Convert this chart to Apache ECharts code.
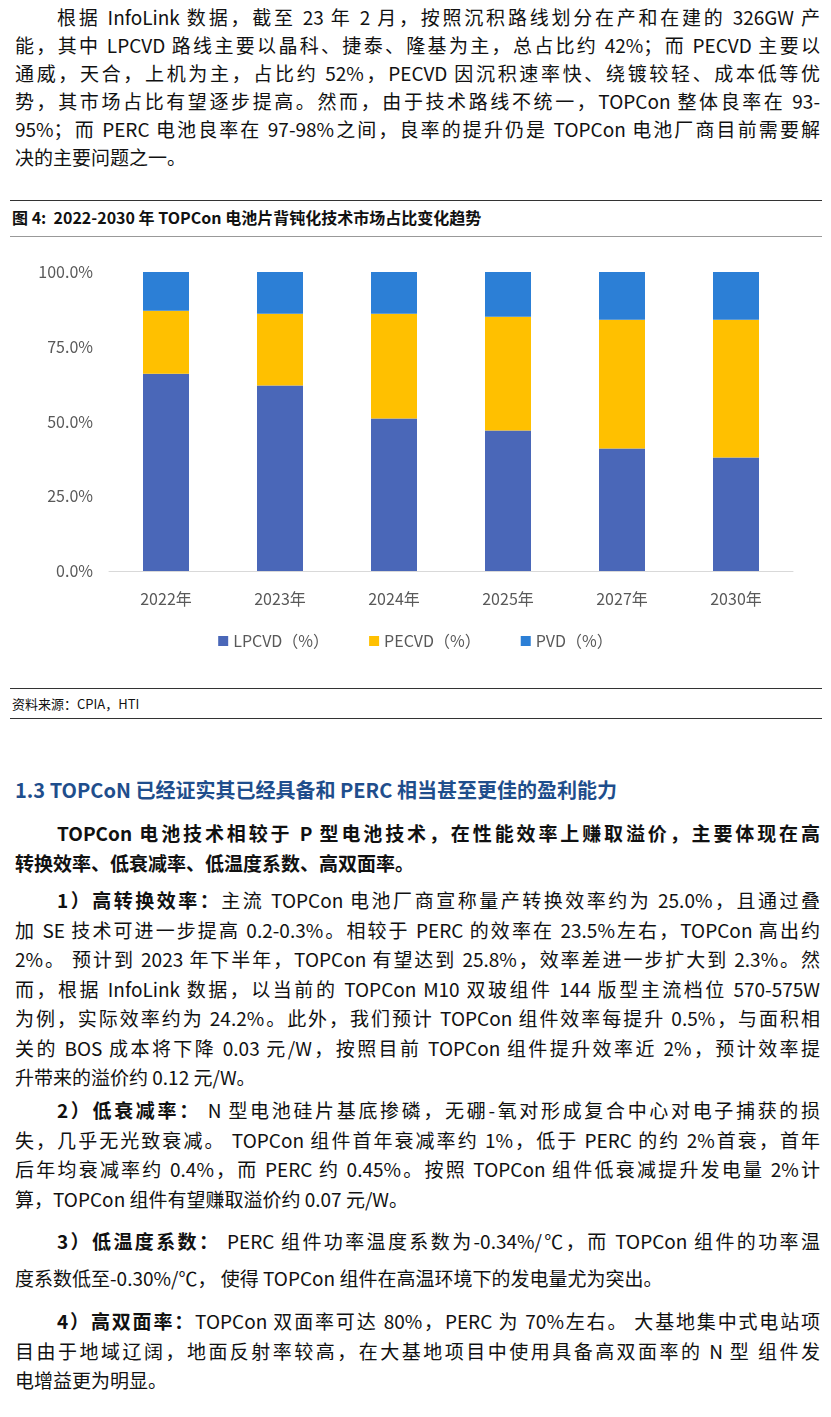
<!DOCTYPE html>
<html><head><meta charset="utf-8">
<script src="https://cdn.jsdelivr.net/npm/echarts@6/dist/echarts.min.js"></script>
<style>
body{margin:0;width:831px;font-family:"Noto Sans CJK SC","Noto Sans",sans-serif;color:#111;background:#fff}
.p{position:absolute;left:15px;width:805px;font-size:19px;line-height:29.5px}
.p div{text-align:justify;text-align-last:justify;white-space:nowrap}
.p div.e{text-align-last:left}
.p div.i{padding-left:42px}
.fig{position:absolute;left:0;width:831px}
.rule{position:absolute;left:10px;width:812px;border-top:1px solid #333}
h3{position:absolute;left:15px;top:775px;margin:0;font-size:20px;color:#1f4e8c;font-weight:bold}
</style></head><body>
<div class="p" style="top:3px;line-height:28px">
<div class="i">根据 InfoLink 数据，截至 23 年 2 月，按照沉积路线划分在产和在建的 326GW 产</div>
<div>能，其中 LPCVD 路线主要以晶科、捷泰、隆基为主，总占比约 42%；而 PECVD 主要以</div>
<div>通威，天合，上机为主，占比约 52%，PECVD 因沉积速率快、绕镀较轻、成本低等优</div>
<div>势，其市场占比有望逐步提高。然而，由于技术路线不统一，TOPCon 整体良率在 93-</div>
<div>95%；而 PERC 电池良率在 97-98%之间，良率的提升仍是 TOPCon 电池厂商目前需要解</div>
<div class="e">决的主要问题之一。</div>
</div>
<div class="rule" style="top:200px"></div>
<div style="position:absolute;left:12px;top:205px;font-size:16px;font-weight:bold">图 4:&nbsp; 2022-2030 年 TOPCon 电池片背钝化技术市场占比变化趋势</div>
<div class="rule" style="top:236px;border-color:#999"></div>
<div id="chart" class="fig" style="top:240px;height:440px"></div>
<div class="rule" style="top:688px"></div>
<div style="position:absolute;left:12px;top:694px;font-size:13px">资料来源：CPIA，HTI</div>
<div class="rule" style="top:718px"></div>
<h3>1.3 TOPCoN 已经证实其已经具备和 PERC 相当甚至更佳的盈利能力</h3>
<div class="p" style="top:818px;font-weight:bold">
<div class="i">TOPCon 电池技术相较于 P 型电池技术，在性能效率上赚取溢价，主要体现在高</div>
<div class="e">转换效率、低衰减率、低温度系数、高双面率。</div>
</div>
<div class="p" style="top:885px">
<div class="i"><b>1）高转换效率：</b>主流 TOPCon 电池厂商宣称量产转换效率约为 25.0%，且通过叠</div>
<div>加 SE 技术可进一步提高 0.2-0.3%。相较于 PERC 的效率在 23.5%左右，TOPCon 高出约</div>
<div>2%。 预计到 2023 年下半年，TOPCon 有望达到 25.8%，效率差进一步扩大到 2.3%。然</div>
<div>而，根据 InfoLink 数据，以当前的 TOPCon M10 双玻组件 144 版型主流档位 570-575W</div>
<div>为例，实际效率约为 24.2%。此外，我们预计 TOPCon 组件效率每提升 0.5%，与面积相</div>
<div>关的 BOS 成本将下降 0.03 元/W，按照目前 TOPCon 组件提升效率近 2%，预计效率提</div>
<div class="e">升带来的溢价约 0.12 元/W。</div>
</div>
<div class="p" style="top:1095px">
<div class="i"><b>2）低衰减率：</b> N 型电池硅片基底掺磷，无硼-氧对形成复合中心对电子捕获的损</div>
<div>失，几乎无光致衰减。 TOPCon 组件首年衰减率约 1%，低于 PERC 的约 2%首衰，首年</div>
<div>后年均衰减率约 0.4%，而 PERC 约 0.45%。按照 TOPCon 组件低衰减提升发电量 2%计</div>
<div class="e">算，TOPCon 组件有望赚取溢价约 0.07 元/W。</div>
</div>
<div class="p" style="top:1222px;line-height:37px">
<div class="i"><b>3）低温度系数：</b> PERC 组件功率温度系数为-0.34%/℃，而 TOPCon 组件的功率温</div>
<div class="e">度系数低至-0.30%/℃， 使得 TOPCon 组件在高温环境下的发电量尤为突出。</div>
</div>
<div class="p" style="top:1306px">
<div class="i"><b>4）高双面率：</b>TOPCon 双面率可达 80%，PERC 为 70%左右。 大基地集中式电站项</div>
<div>目由于地域辽阔，地面反射率较高，在大基地项目中使用具备高双面率的 N 型 组件发</div>
<div class="e">电增益更为明显。</div>
</div>
<script>
var years = ["2022年", "2023年", "2024年", "2025年", "2027年", "2030年"];
var lpcvd = [66, 62, 51, 47, 41, 38];
var pecvd = [21, 24, 35, 38, 43, 46];
var pvd = [13, 14, 14, 15, 16, 16];
var yTicks = ["0.0%", "25.0%", "50.0%", "75.0%", "100.0%"];

var chart = echarts.init(document.getElementById("chart"));
var lab = { color: "#595959", fontSize: 16, fontFamily: "Noto Sans CJK SC" };
function bar(name, data, color) {
  return { name: name, type: "bar", stack: "s", data: data, barWidth: 46, itemStyle: { color: color } };
}
chart.setOption({
  animation: false,
  grid: { left: 109, right: 38, top: 32, bottom: 109 },
  legend: {
    bottom: 26, itemWidth: 10, itemHeight: 10, itemGap: 40, icon: "rect",
    textStyle: lab
  },
  xAxis: {
    type: "category", data: years,
    axisTick: { show: false },
    axisLine: { lineStyle: { color: "#d9d9d9" } },
    axisLabel: Object.assign({ margin: 20 }, lab)
  },
  yAxis: {
    type: "value", min: 0, max: 100, interval: 25,
    splitLine: { show: false },
    axisLabel: Object.assign({ margin: 16, formatter: function (v) { return yTicks[v / 25]; } }, lab)
  },
  series: [
    bar("LPCVD（%）", lpcvd, "#4a67b8"),
    bar("PECVD（%）", pecvd, "#ffc000"),
    bar("PVD（%）", pvd, "#2c7fd6")
  ]
});
</script>
</body></html>
